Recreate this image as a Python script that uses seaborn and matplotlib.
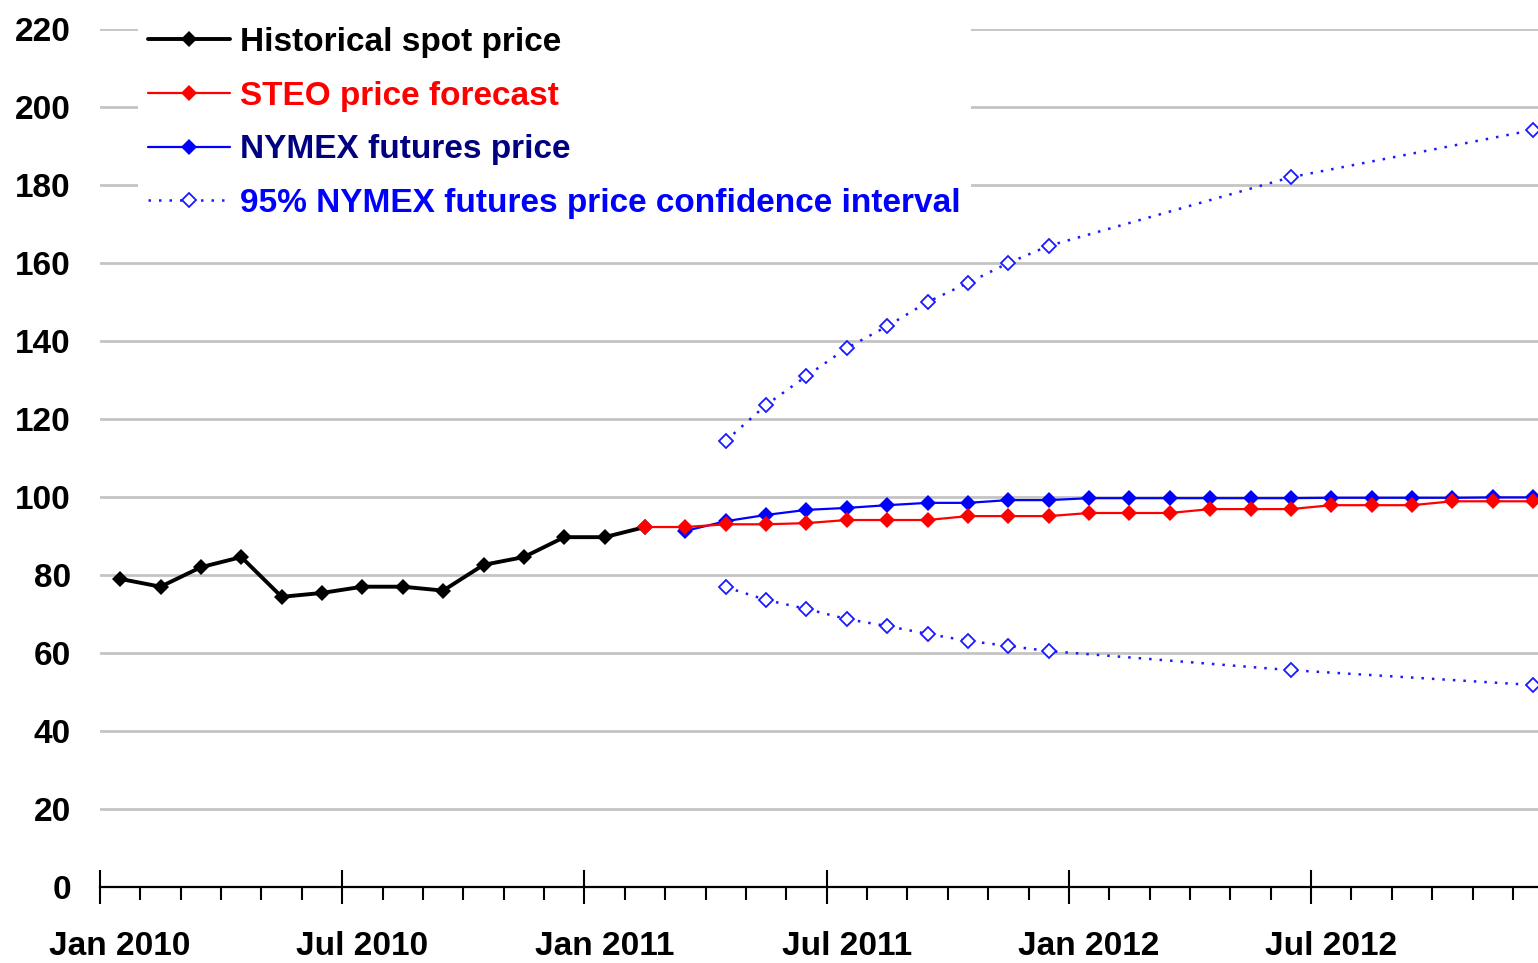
import matplotlib

matplotlib.use("Agg")
import matplotlib.pyplot as plt  # noqa: E402
import numpy as np  # noqa: E402
import pandas as pd  # noqa: E402
import seaborn as sns  # noqa: E402

# ── Data (monthly, Jan 2010 .. Dec 2012) ─────────────────────────────────────
months = pd.date_range("2010-01-01", "2012-12-01", freq="MS")
month_idx = np.arange(len(months))

historical = [79, 77, 82, 84.6, 74.4, 75.4, 77, 77, 76, 82.6, 84.6, 89.7,
              89.7, 92.3]
steo = [92.3, 92.3, 93, 93, 93.3, 94.1, 94.1, 94.1, 95.1, 95.1, 95.1,
        95.9, 95.9, 95.9, 96.9, 96.9, 96.9, 97.9, 97.9, 97.9, 98.9, 98.9, 98.9]
nymex = [91.3, 93.8, 95.4, 96.7, 97.2, 97.9, 98.5, 98.5, 99.2, 99.2,
         99.7, 99.7, 99.7, 99.7, 99.7, 99.7, 99.8, 99.8, 99.8, 99.8, 99.9, 99.9]
ci_months = [15, 16, 17, 18, 19, 20, 21, 22, 23, 29, 35]
ci_upper = [114.4, 123.6, 131, 138.2, 143.8, 150, 154.9, 160, 164.4, 182, 194.1]
ci_lower = [76.9, 73.6, 71.3, 68.7, 66.9, 64.9, 63.1, 61.8, 60.5, 55.6, 51.8]

label_months = [0, 6, 12, 18, 24, 30]
label_text = ["Jan 2010", "Jul 2010", "Jan 2011", "Jul 2011", "Jan 2012", "Jul 2012"]
y_ticks = list(range(0, 221, 20))

hist_df = pd.DataFrame({"m": month_idx[:len(historical)], "v": historical})
steo_df = pd.DataFrame({"m": month_idx[13:13 + len(steo)], "v": steo})
nymex_df = pd.DataFrame({"m": month_idx[14:14 + len(nymex)], "v": nymex})
up_df = pd.DataFrame({"m": ci_months, "v": ci_upper})
lo_df = pd.DataFrame({"m": ci_months, "v": ci_lower})

# ── Plot ─────────────────────────────────────────────────────────────────────
sns.set_style("white")
plt.rcParams["font.family"] = ["Liberation Sans", "DejaVu Sans"]
plt.rcParams["font.weight"] = "bold"
plt.rcParams["text.color"] = "black"
plt.rcParams["xtick.color"] = "black"
plt.rcParams["ytick.color"] = "black"
FS = 24

fig = plt.figure(figsize=(15.38, 9.63), dpi=100)
ax = fig.add_axes([100 / 1538, 1 - 887 / 963, 1 - 100 / 1538, (887 - 29) / 963])

dotted = (0, (1, 3.2))
ci_style = dict(color="#1a1aff", lw=1.8, linestyle=dotted, marker="D",
                markersize=7, markerfacecolor="white",
                markeredgecolor="#1a1aff", markeredgewidth=1.3, zorder=3)
sns.lineplot(data=up_df, x="m", y="v", ax=ax,
             label="95% NYMEX futures price confidence interval", **ci_style)
sns.lineplot(data=lo_df, x="m", y="v", ax=ax, **ci_style)
sns.lineplot(data=hist_df, x="m", y="v", ax=ax, color="black", lw=2.8,
             marker="D", markersize=8, markeredgewidth=0,
             label="Historical spot price", zorder=4)
sns.lineplot(data=nymex_df, x="m", y="v", ax=ax, color="#0000ff", lw=1.6,
             marker="D", markersize=8.5, markeredgewidth=0,
             label="NYMEX futures price", zorder=5)
sns.lineplot(data=steo_df, x="m", y="v", ax=ax, color="#ff0000", lw=1.6,
             marker="D", markersize=8.5, markeredgewidth=0,
             label="STEO price forecast", zorder=6)

ax.set_xlabel("")
ax.set_ylabel("")

# y axis: labels only, with horizontal grid
ax.set_yticks(y_ticks)
ax.set_yticklabels([str(t) for t in y_ticks], fontsize=FS, fontweight="bold")
ax.tick_params(axis="y", length=0, pad=21, labelcolor="black")
ax.yaxis.grid(True, color="#c4c4c4", lw=2)
ax.set_axisbelow(True)

# x axis: ticks at month boundaries, labels at month centres
boundaries = np.arange(-0.5, 36, 1)
major_b = [b for b in boundaries if (b + 0.5) % 6 == 0]
minor_b = [b for b in boundaries if (b + 0.5) % 6 != 0]
ax.set_xticks(major_b)
ax.set_xticks(minor_b, minor=True)
ax.set_xticklabels([])
ax.tick_params(axis="x", which="both", bottom=True)
ax.tick_params(axis="x", which="major", direction="inout", length=25, width=1.5,
               color="black")
ax.tick_params(axis="x", which="minor", direction="out", length=9, width=1.5,
               color="black")

sec = ax.secondary_xaxis("bottom")
sec.set_xticks(label_months)
sec.set_xticklabels(label_text, fontsize=FS, fontweight="bold", color="black")
sec.tick_params(length=0, pad=32, labelcolor="black")
sec.spines["bottom"].set_visible(False)

# limits last: set_xticks may widen the view
ax.set_xlim(-0.5, 35.12)
ax.set_ylim(0, 220)

for side in ["left", "top", "right"]:
    ax.spines[side].set_visible(False)
ax.spines["bottom"].set_color("black")
ax.spines["bottom"].set_linewidth(1.6)

# legend: order as in the reference
handles, labels = ax.get_legend_handles_labels()
order = ["Historical spot price", "STEO price forecast", "NYMEX futures price",
         "95% NYMEX futures price confidence interval"]
hmap = dict(zip(labels, handles))
leg = ax.legend([hmap[k] for k in order], order, loc="upper left",
                bbox_to_anchor=(138 / 1538, 1 - 17 / 963),
                bbox_transform=fig.transFigure, frameon=True, facecolor="white",
                edgecolor="none", framealpha=1, fontsize=FS, handlelength=2.46,
                handletextpad=0.3, labelspacing=0.68, borderpad=0.3,
                borderaxespad=0)
leg.set_zorder(10)
text_colors = ["black", "#ff0000", "#000080", "#0000ff"]
for txt, c in zip(leg.get_texts(), text_colors):
    txt.set_color(c)
    txt.set_fontweight("bold")

fig.savefig("out.png", dpi=100, facecolor="white")
